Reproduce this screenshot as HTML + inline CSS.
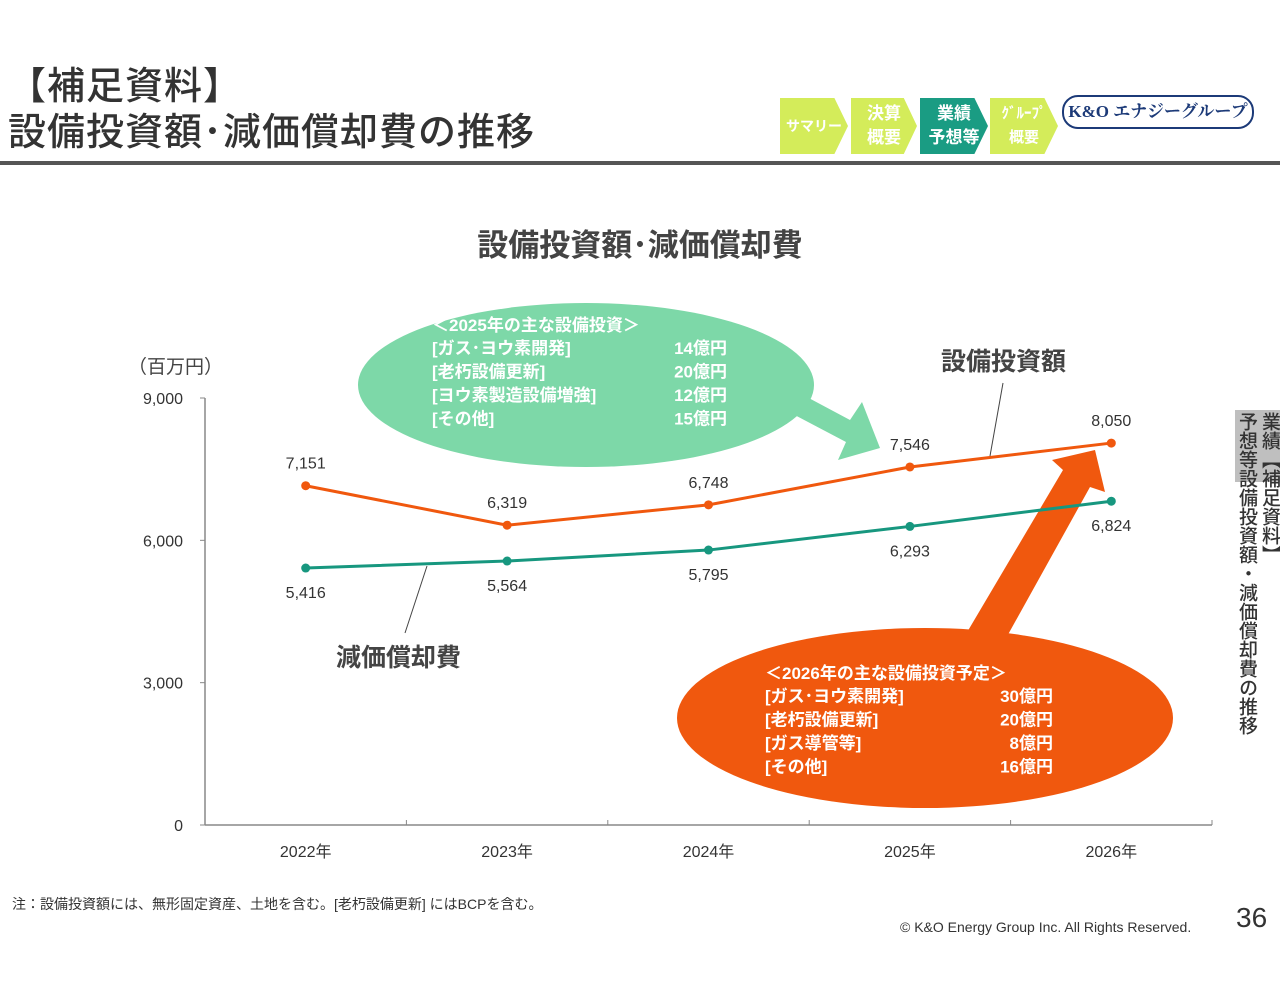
<!DOCTYPE html>
<html><head><meta charset="utf-8"><style>
body{margin:0;width:1280px;height:989px;background:#fff;font-family:"Liberation Sans","Noto Sans CJK JP",sans-serif;position:relative;overflow:hidden;color:#333}
.a{position:absolute}
.nav{position:absolute;top:98px;height:56px;clip-path:polygon(0 0,80% 0,100% 50%,80% 100%,0 100%);color:#fff;font-weight:bold;font-size:17px;line-height:24px;text-align:center;display:flex;align-items:center;justify-content:center}
.vt{position:absolute;writing-mode:vertical-rl;font-size:19px;line-height:22px;color:#333;font-weight:500}
</style></head><body>
<div class="a" style="left:8px;top:64px;font-size:38px;line-height:46px;color:#333;font-weight:500;letter-spacing:1px">【補足資料】<br>設備投資額･減価償却費の推移</div>
<div class="nav" style="left:780px;width:68px;background:#d4ec5a;font-size:14px">サマリー</div>
<div class="nav" style="left:851px;width:66px;background:#d4ec5a">決算<br>概要</div>
<div class="nav" style="left:920px;width:68px;background:#1a9c83">業績<br>予想等</div>
<div class="nav" style="left:990px;width:68px;background:#d4ec5a;font-size:15px">ｸﾞﾙｰﾌﾟ<br>概要</div>
<div class="a" style="left:1062px;top:95px;width:188px;height:30px;border:2px solid #1c3a78;border-radius:16px;color:#1c3a78;font-weight:bold;font-size:17px;line-height:30px;text-align:center;font-family:'Liberation Serif','Noto Serif CJK SC',serif">K&amp;O エナジーグループ</div>
<div class="a" style="left:0;top:161px;width:1280px;height:4px;background:#555"></div>
<div class="a" style="left:1235px;top:410px;width:45px;height:72px;background:#bfbfbf"></div>
<div class="vt" style="left:1258px;top:412px">業績【補足資料】</div>
<div class="vt" style="left:1235px;top:412px">予想等設備投資額・減価償却費の推移</div>
<svg class="a" style="left:0;top:0" width="1280" height="989" id="svg"></svg>
<div class="a" style="left:12px;top:894px;font-size:14px">注：設備投資額には、無形固定資産、土地を含む。[老朽設備更新] にはBCPを含む。</div>
<div class="a" style="left:900px;top:919px;font-size:14px">© K&amp;O Energy Group Inc. All Rights Reserved.</div>
<div class="a" style="left:1236px;top:902px;font-size:28px">36</div>
<script>
const categories=["2022年","2023年","2024年","2025年","2026年"];
const capex=[7151,6319,6748,7546,8050];
const depreciation=[5416,5564,5795,6293,6824];
const yTicks=[0,3000,6000,9000];
const yTickLabels=["0","3,000","6,000","9,000"];
const NS="http://www.w3.org/2000/svg",svg=document.getElementById('svg');
const x0=205,x1=1212,yb=825,yt=398;
const xs=i=>x0+(x1-x0)/categories.length*(i+0.5);
const ys=v=>yb-(yb-yt)*v/9000;
function el(t,a,txt){const e=document.createElementNS(NS,t);for(const k in a)e.setAttribute(k,a[k]);if(txt!=null)e.textContent=txt;svg.appendChild(e);return e;}
let e;
e=el('text',{x:640,y:256,'text-anchor':'middle','font-size':31,'font-weight':'bold',fill:'#444'},'設備投資額･減価償却費');

e=el('text',{x:128,y:373,'font-size':19,fill:'#444'},'（百万円）');

e=el('polygon',{points:'775,380 850,420 862,402 880,448 838,460 846,442 770,402',fill:'#7dd8a8'});

e=el('ellipse',{cx:586,cy:385,rx:228,ry:82,fill:'#7dd8a8'});

e=el('polygon',{points:'966,634 1063,470 1052,460 1095,450 1105,492 1090,487 1005,640',fill:'#f0580e'});

e=el('ellipse',{cx:925,cy:718,rx:248,ry:90,fill:'#f0580e'});


e=el('line',{x1:x0,y1:yb,x2:x1,y2:yb,stroke:'#888','stroke-width':1.5});

e=el('line',{x1:x0,y1:yt,x2:x0,y2:yb,stroke:'#888','stroke-width':1.5});

yTicks.forEach((v,i)=>{
 e=el('line',{x1:x0-5,y1:ys(v),x2:x0,y2:ys(v),stroke:'#888'});
 
 e=el('text',{x:183,y:ys(v)+6,'text-anchor':'end','font-size':16,fill:'#333'},yTickLabels[i]);
 
});
for(let i=0;i<=categories.length;i++){const x=x0+(x1-x0)/categories.length*i;
 e=el('line',{x1:x,y1:yb,x2:x,y2:yb-5,stroke:'#888'});
 }
categories.forEach((c,i)=>{
 e=el('text',{x:xs(i),y:857,'text-anchor':'middle','font-size':16,fill:'#333'},c);
 
});
function series(vals,color,name,off){
 e=el('polyline',{points:vals.map((v,i)=>xs(i)+','+ys(v)).join(' '),fill:'none',stroke:color,'stroke-width':3});
 
 vals.forEach((v,i)=>{
  e=el('circle',{cx:xs(i),cy:ys(v),r:4.5,fill:color});
  
  e=el('text',{x:xs(i),y:ys(v)+off,'text-anchor':'middle','font-size':16,fill:'#333'},v.toLocaleString('en-US'));
  
 });
}
series(capex,'#f0580e','capex',-17);
series(depreciation,'#17977f','depreciation',30);
e=el('line',{x1:990,y1:456,x2:1003,y2:383,stroke:'#444'});

e=el('text',{x:941,y:370,'font-size':25,'font-weight':'bold',fill:'#444'},'設備投資額');

e=el('line',{x1:427,y1:566,x2:405,y2:633,stroke:'#444'});

e=el('text',{x:336,y:666,'font-size':25,'font-weight':'bold',fill:'#444'},'減価償却費');

function txt(x,y,s,n,anchor){e=el('text',{x:x,y:y,'font-size':17,'font-weight':'bold',fill:'#fff','text-anchor':anchor||'start'},s);
 }
txt(432,331,'＜2025年の主な設備投資＞','callout-2025-title');
[['[ガス･ヨウ素開発]','14億円'],['[老朽設備更新]','20億円'],['[ヨウ素製造設備増強]','12億円'],['[その他]','15億円']].forEach((r,i)=>{
 txt(432,354+i*23.5,r[0],'callout-2025-item');txt(727,354+i*23.5,r[1],'callout-2025-amount','end');});
txt(765,679,'＜2026年の主な設備投資予定＞','callout-2026-title');
[['[ガス･ヨウ素開発]','30億円'],['[老朽設備更新]','20億円'],['[ガス導管等]','8億円'],['[その他]','16億円']].forEach((r,i)=>{
 txt(765,702+i*23.5,r[0],'callout-2026-item');txt(1053,702+i*23.5,r[1],'callout-2026-amount','end');});
</script>
</body></html>
